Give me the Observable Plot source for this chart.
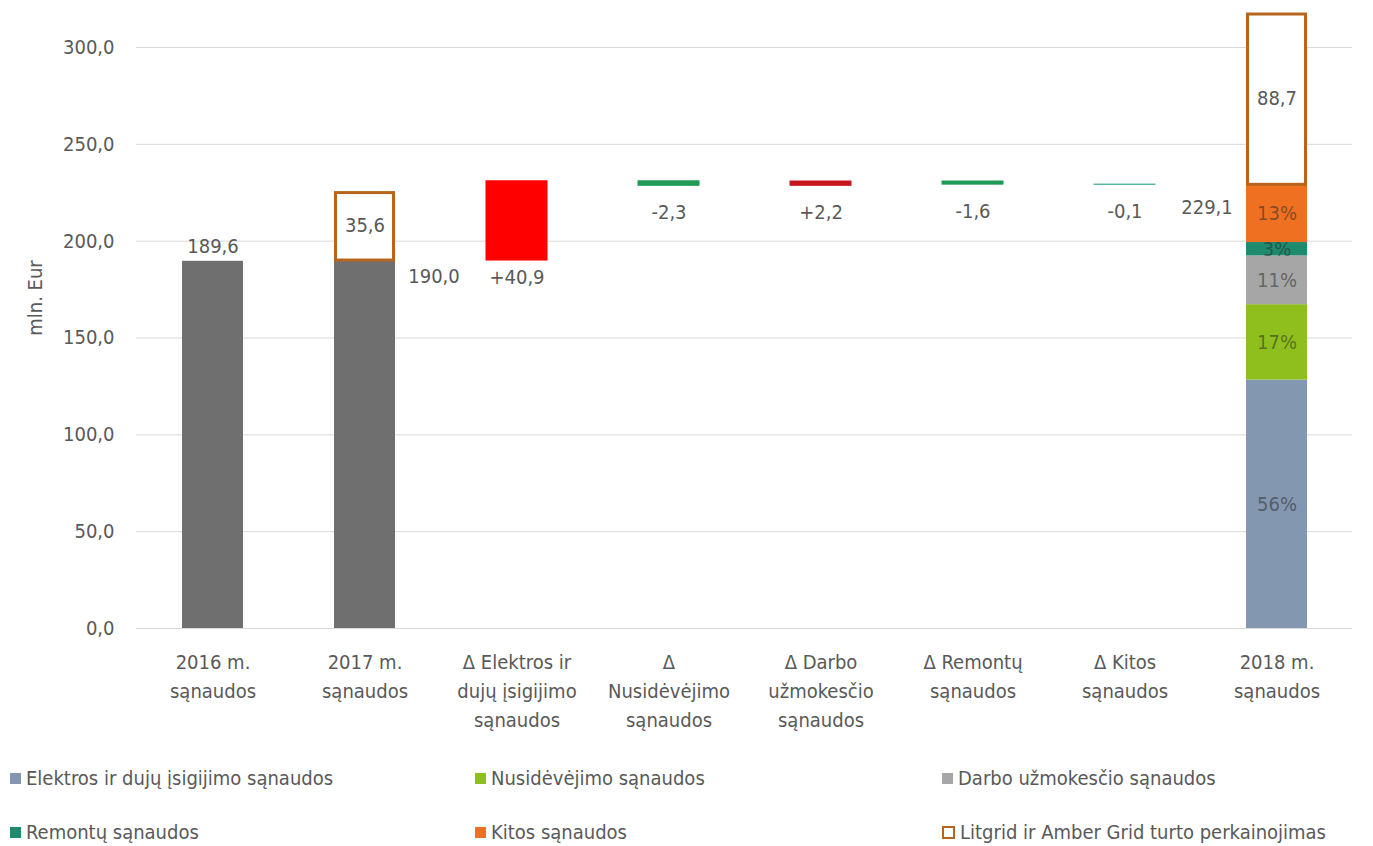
<!DOCTYPE html>
<html>
<head>
<meta charset="utf-8">
<script src="https://cdn.jsdelivr.net/npm/d3@7"></script>
<script src="https://cdn.jsdelivr.net/npm/@observablehq/plot@0.6"></script>
<style>
  body { margin: 0; background: #fff; font-family: "Liberation Sans Narrow", "DejaVu Sans Condensed", Roboto, sans-serif; color: #595959; }
  #chart svg { display: block; }
  .legend { display: grid; grid-template-columns: 465px 467px 400px; row-gap: 24px; padding-left: 10px; margin-top: 18px; font-size: 20px; line-height: 30px; }
  .legend div { display: flex; align-items: center; white-space: nowrap; }
  .sw { display: inline-block; width: 11px; height: 11px; margin-right: 5px; }
  .sw.box { width: 9px; height: 9px; border: 2px solid #b5651d; background: #fff; }
</style>
</head>
<body>
<div id="chart"></div>
<div class="legend" id="legend"></div>
<script>
// ---- data ----
const categories = [
  "2016 m.\nsąnaudos",
  "2017 m.\nsąnaudos",
  "Δ Elektros ir\ndujų įsigijimo\nsąnaudos",
  "Δ\nNusidėvėjimo\nsąnaudos",
  "Δ Darbo\nužmokesčio\nsąnaudos",
  "Δ Remontų\nsąnaudos",
  "Δ Kitos\nsąnaudos",
  "2018 m.\nsąnaudos"
];
const cost2016 = 189.6;
const cost2017 = 190.0;
const revaluation2017 = 35.6;
const deltaValues = [40.9, -2.3, 2.2, -1.6, -0.1];
const total2018 = 229.1;
const segmentNames = [
  "Elektros ir dujų įsigijimo sąnaudos",
  "Nusidėvėjimo sąnaudos",
  "Darbo užmokesčio sąnaudos",
  "Remontų sąnaudos",
  "Kitos sąnaudos"
];
const segmentValues = [128.3, 38.9, 25.2, 6.9, 29.8];
const segmentShares = ["56%", "17%", "11%", "3%", "13%"];
const revaluation2018 = 88.7;
const revaluationName = "Litgrid ir Amber Grid turto perkainojimas";
const yTicks = [0, 50, 100, 150, 200, 250, 300];
const yLabel = "mln. Eur";

// ---- styles ----
const GRAY = "#6f6f6f";
const OUTLINE = "#b5651d";
const deltaColors = ["#ff0000", "#1e9b57", "#c9151e", "#1e9b57", "#3aa98d"];
const segmentColors = ["#8497b0", "#8fbf1c", "#a6a6a6", "#1e8a6e", "#f07022"];
const TEXT = "#595959";
const fmt = v => v.toFixed(1).replace(".", ",");
const fmtSigned = v => (v > 0 ? "+" : "") + fmt(v);

// ---- build tables ----
const solid = [
  {x: categories[0], y1: 0, y2: cost2016, fill: GRAY},
  {x: categories[1], y1: 0, y2: cost2017, fill: GRAY}
];
const deltas = [];
let level = cost2017;
deltaValues.forEach((v, i) => {
  const start = level;
  level = +(level + v).toFixed(1);
  deltas.push({x: categories[2 + i], y1: start, y2: level, v, fill: deltaColors[i]});
});
const segs = [];
let acc = 0;
segmentValues.forEach((v, i) => {
  segs.push({x: categories[7], y1: acc, y2: acc + v, fill: segmentColors[i], label: segmentShares[i]});
  acc += v;
});
const boxes = [
  {x: categories[1], y1: cost2017, y2: cost2017 + revaluation2017, v: revaluation2017},
  {x: categories[7], y1: total2018, y2: total2018 + revaluation2018, v: revaluation2018}
];

const font = '"Liberation Sans Narrow", "DejaVu Sans Condensed", Roboto, sans-serif';

const chart = Plot.plot({
  width: 1373,
  height: 745,
  marginLeft: 136,
  marginRight: 21,
  marginTop: 47,
  marginBottom: 117,
  style: {fontFamily: font, fontSize: "20px", color: TEXT, background: "#fff"},
  x: {domain: categories, paddingInner: 0.6, paddingOuter: 0.3},
  y: {domain: [0, 300]},
  marks: [
    Plot.gridY(yTicks, {stroke: "#d9d9d9", strokeOpacity: 1}),
    Plot.axisY(yTicks, {tickSize: 0, tickPadding: 22, tickFormat: fmt, fontSize: 20, fill: TEXT, label: null}),
    Plot.text([yLabel], {frameAnchor: "left", textAnchor: "middle", rotate: -90, dx: -101, dy: -40, fill: TEXT, fontSize: 20}),
    Plot.axisX({tickSize: 0, tickPadding: 20, fontSize: 20, lineHeight: 1.45, fill: TEXT, label: null}),
    Plot.barY(solid, {x: "x", y1: "y1", y2: "y2", fill: "fill"}),
    Plot.barY(deltas, {x: "x", y1: "y1", y2: "y2", fill: "fill", stroke: "fill", strokeWidth: 1}),
    Plot.barY(segs, {x: "x", y1: "y1", y2: "y2", fill: "fill"}),
    Plot.barY(boxes, {x: "x", y1: "y1", y2: "y2", fill: "#fff", stroke: OUTLINE, strokeWidth: 3, insetLeft: 1.5, insetRight: 1.5, insetTop: 1.5}),
    // value labels
    Plot.text(solid.slice(0, 1), {x: "x", y: "y2", text: d => fmt(d.y2), dy: -15, fill: TEXT, fontSize: 20}),
    Plot.text(solid.slice(1, 2), {x: "x", y: "y2", text: d => fmt(d.y2), dx: 69, dy: 16, fill: TEXT, fontSize: 20}),
    Plot.text(boxes, {x: "x", y: d => (d.y1 + d.y2) / 2, text: d => fmt(d.v), fill: TEXT, fontSize: 20}),
    Plot.text(deltas, {x: "x", y: d => Math.min(d.y1, d.y2), text: d => fmtSigned(d.v),
      dy: 27, fill: TEXT, fontSize: 20, filter: d => Math.abs(d.v) < 10}),
    Plot.text(deltas, {x: "x", y: d => Math.min(d.y1, d.y2), text: d => fmtSigned(d.v),
      dy: 17, fill: TEXT, fontSize: 20, filter: d => Math.abs(d.v) >= 10}),
    Plot.text([total2018], {x: () => categories[7], y: d => d, text: d => fmt(d), dx: -70, dy: 23, fill: TEXT, fontSize: 20}),
    Plot.text(segs, {x: "x", y: d => (d.y1 + d.y2) / 2, text: "label", fill: "#2a2a2a", fillOpacity: 0.55, fontSize: 20})
  ]
});
document.getElementById("chart").appendChild(chart);

// ---- legend ----
const legendItems = segmentNames.map((n, i) => ({name: n, color: segmentColors[i]}));
legendItems.push({name: revaluationName, box: true});
const leg = document.getElementById("legend");
legendItems.forEach(it => {
  const div = document.createElement("div");
  const sw = document.createElement("span");
  sw.className = "sw" + (it.box ? " box" : "");
  if (!it.box) sw.style.background = it.color;
  div.appendChild(sw);
  div.appendChild(document.createTextNode(it.name));
  leg.appendChild(div);
});
</script>
</body>
</html>
